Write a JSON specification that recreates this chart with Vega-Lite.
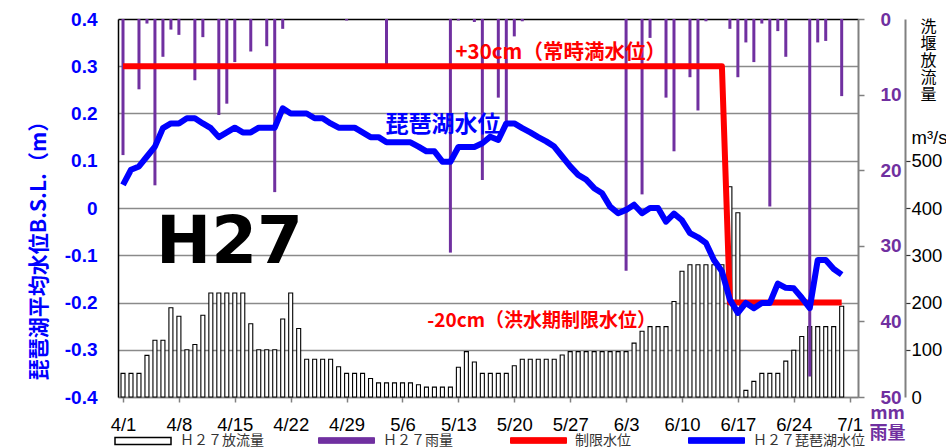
{
  "$schema": "https://vega.github.io/schema/vega-lite/v6.json",
  "width": 740,
  "height": 378,
  "autosize": {"type": "none"},
  "padding": {"left": 118, "top": 19, "right": 88, "bottom": 50},
  "background": "white",
  "config": {"view": {"stroke": null}, "font": "Noto Sans CJK JP"},
  "datasets": {
    "daily": [
      {"date": "2015/04/01", "discharge": 50, "level": 0.049, "rain": 18},
      {"date": "2015/04/02", "discharge": 50, "level": 0.081, "rain": 0},
      {"date": "2015/04/03", "discharge": 50, "level": 0.088, "rain": 9.3},
      {"date": "2015/04/04", "discharge": 88, "level": 0.109, "rain": 0.6},
      {"date": "2015/04/05", "discharge": 120, "level": 0.13, "rain": 22},
      {"date": "2015/04/06", "discharge": 120, "level": 0.169, "rain": 5},
      {"date": "2015/04/07", "discharge": 189, "level": 0.179, "rain": 1.4},
      {"date": "2015/04/08", "discharge": 171, "level": 0.179, "rain": 2.1},
      {"date": "2015/04/09", "discharge": 100, "level": 0.19, "rain": 0},
      {"date": "2015/04/10", "discharge": 111, "level": 0.19, "rain": 8.1},
      {"date": "2015/04/11", "discharge": 173, "level": 0.179, "rain": 2.4},
      {"date": "2015/04/12", "discharge": 220, "level": 0.169, "rain": 0},
      {"date": "2015/04/13", "discharge": 220, "level": 0.15, "rain": 12.7},
      {"date": "2015/04/14", "discharge": 220, "level": 0.16, "rain": 11.2},
      {"date": "2015/04/15", "discharge": 220, "level": 0.17, "rain": 5.7},
      {"date": "2015/04/16", "discharge": 220, "level": 0.16, "rain": 0},
      {"date": "2015/04/17", "discharge": 155, "level": 0.16, "rain": 4.3},
      {"date": "2015/04/18", "discharge": 100, "level": 0.17, "rain": 0},
      {"date": "2015/04/19", "discharge": 100, "level": 0.17, "rain": 3.6},
      {"date": "2015/04/20", "discharge": 100, "level": 0.17, "rain": 22.9},
      {"date": "2015/04/21", "discharge": 165, "level": 0.211, "rain": 1.3},
      {"date": "2015/04/22", "discharge": 220, "level": 0.2, "rain": 0},
      {"date": "2015/04/23", "discharge": 145, "level": 0.2, "rain": 0},
      {"date": "2015/04/24", "discharge": 80, "level": 0.2, "rain": 0},
      {"date": "2015/04/25", "discharge": 80, "level": 0.19, "rain": 0},
      {"date": "2015/04/26", "discharge": 80, "level": 0.19, "rain": 0},
      {"date": "2015/04/27", "discharge": 80, "level": 0.179, "rain": 0},
      {"date": "2015/04/28", "discharge": 64, "level": 0.17, "rain": 0},
      {"date": "2015/04/29", "discharge": 50, "level": 0.17, "rain": 0.2},
      {"date": "2015/04/30", "discharge": 50, "level": 0.17, "rain": 0},
      {"date": "2015/05/01", "discharge": 50, "level": 0.16, "rain": 0},
      {"date": "2015/05/02", "discharge": 39, "level": 0.15, "rain": 0},
      {"date": "2015/05/03", "discharge": 30, "level": 0.15, "rain": 0},
      {"date": "2015/05/04", "discharge": 30, "level": 0.139, "rain": 6.6},
      {"date": "2015/05/05", "discharge": 30, "level": 0.139, "rain": 0},
      {"date": "2015/05/06", "discharge": 30, "level": 0.139, "rain": 0},
      {"date": "2015/05/07", "discharge": 30, "level": 0.139, "rain": 0},
      {"date": "2015/05/08", "discharge": 26, "level": 0.13, "rain": 0},
      {"date": "2015/05/09", "discharge": 21, "level": 0.12, "rain": 0},
      {"date": "2015/05/10", "discharge": 21, "level": 0.12, "rain": 0},
      {"date": "2015/05/11", "discharge": 21, "level": 0.098, "rain": 0},
      {"date": "2015/05/12", "discharge": 21, "level": 0.098, "rain": 30.9},
      {"date": "2015/05/13", "discharge": 63, "level": 0.129, "rain": 0.2},
      {"date": "2015/05/14", "discharge": 96, "level": 0.129, "rain": 0},
      {"date": "2015/05/15", "discharge": 74, "level": 0.129, "rain": 0.4},
      {"date": "2015/05/16", "discharge": 50, "level": 0.137, "rain": 21.3},
      {"date": "2015/05/17", "discharge": 50, "level": 0.151, "rain": 0},
      {"date": "2015/05/18", "discharge": 50, "level": 0.144, "rain": 10.4},
      {"date": "2015/05/19", "discharge": 50, "level": 0.179, "rain": 13.6},
      {"date": "2015/05/20", "discharge": 66, "level": 0.179, "rain": 2.3},
      {"date": "2015/05/21", "discharge": 80, "level": 0.169, "rain": 0.3},
      {"date": "2015/05/22", "discharge": 80, "level": 0.16, "rain": 0},
      {"date": "2015/05/23", "discharge": 80, "level": 0.15, "rain": 0},
      {"date": "2015/05/24", "discharge": 80, "level": 0.141, "rain": 0},
      {"date": "2015/05/25", "discharge": 80, "level": 0.13, "rain": 0},
      {"date": "2015/05/26", "discharge": 89, "level": 0.109, "rain": 0},
      {"date": "2015/05/27", "discharge": 96, "level": 0.088, "rain": 0},
      {"date": "2015/05/28", "discharge": 96, "level": 0.07, "rain": 0},
      {"date": "2015/05/29", "discharge": 96, "level": 0.06, "rain": 0},
      {"date": "2015/05/30", "discharge": 96, "level": 0.042, "rain": 0},
      {"date": "2015/05/31", "discharge": 96, "level": 0.031, "rain": 0},
      {"date": "2015/06/01", "discharge": 96, "level": 0.003, "rain": 0},
      {"date": "2015/06/02", "discharge": 96, "level": -0.011, "rain": 0},
      {"date": "2015/06/03", "discharge": 96, "level": -0.004, "rain": 33.3},
      {"date": "2015/06/04", "discharge": 114, "level": 0.007, "rain": 0},
      {"date": "2015/06/05", "discharge": 139, "level": -0.011, "rain": 23.2},
      {"date": "2015/06/06", "discharge": 149, "level": 0.0, "rain": 2.5},
      {"date": "2015/06/07", "discharge": 149, "level": 0.0, "rain": 0},
      {"date": "2015/06/08", "discharge": 149, "level": -0.029, "rain": 10.4},
      {"date": "2015/06/09", "discharge": 202, "level": -0.012, "rain": 17.5},
      {"date": "2015/06/10", "discharge": 266, "level": -0.026, "rain": 0},
      {"date": "2015/06/11", "discharge": 280, "level": -0.053, "rain": 7.7},
      {"date": "2015/06/12", "discharge": 280, "level": -0.062, "rain": 12.1},
      {"date": "2015/06/13", "discharge": 280, "level": -0.074, "rain": 0.3},
      {"date": "2015/06/14", "discharge": 280, "level": -0.11, "rain": 0},
      {"date": "2015/06/15", "discharge": 280, "level": -0.134, "rain": 0},
      {"date": "2015/06/16", "discharge": 445, "level": -0.194, "rain": 1.3},
      {"date": "2015/06/17", "discharge": 390, "level": -0.222, "rain": 7.7},
      {"date": "2015/06/18", "discharge": 14, "level": -0.201, "rain": 3.1},
      {"date": "2015/06/19", "discharge": 33, "level": -0.212, "rain": 5.7},
      {"date": "2015/06/20", "discharge": 50, "level": -0.201, "rain": 0.6},
      {"date": "2015/06/21", "discharge": 50, "level": -0.201, "rain": 24.8},
      {"date": "2015/06/22", "discharge": 50, "level": -0.16, "rain": 1.6},
      {"date": "2015/06/23", "discharge": 76, "level": -0.169, "rain": 5.0},
      {"date": "2015/06/24", "discharge": 99, "level": -0.17, "rain": 0},
      {"date": "2015/06/25", "discharge": 128, "level": -0.19, "rain": 0},
      {"date": "2015/06/26", "discharge": 149, "level": -0.212, "rain": 47.3},
      {"date": "2015/06/27", "discharge": 149, "level": -0.11, "rain": 3.1},
      {"date": "2015/06/28", "discharge": 149, "level": -0.11, "rain": 2.9},
      {"date": "2015/06/29", "discharge": 149, "level": -0.129, "rain": 0},
      {"date": "2015/06/30", "discharge": 192, "level": -0.141, "rain": 10.2}
    ],
    "limit": [
      {"date": "2015/04/01", "level": 0.3},
      {"date": "2015/06/15", "level": 0.3},
      {"date": "2015/06/16", "level": -0.2},
      {"date": "2015/06/30", "level": -0.2}
    ]
  },
  "encoding": {
    "x": {
      "field": "date",
      "type": "temporal",
      "scale": {
        "domain": [{"year": 2015, "month": 4, "date": 1}, {"year": 2015, "month": 7, "date": 1, "hours": 10}],
        "nice": false
      },
      "axis": {
        "values": [
          {"year": 2015, "month": 4, "date": 1}, {"year": 2015, "month": 4, "date": 8},
          {"year": 2015, "month": 4, "date": 15}, {"year": 2015, "month": 4, "date": 22},
          {"year": 2015, "month": 4, "date": 29}, {"year": 2015, "month": 5, "date": 6},
          {"year": 2015, "month": 5, "date": 13}, {"year": 2015, "month": 5, "date": 20},
          {"year": 2015, "month": 5, "date": 27}, {"year": 2015, "month": 6, "date": 3},
          {"year": 2015, "month": 6, "date": 10}, {"year": 2015, "month": 6, "date": 17},
          {"year": 2015, "month": 6, "date": 24}, {"year": 2015, "month": 7, "date": 1}
        ],
        "labelExpr": "timeFormat(datum.value, '%-m/%-d')",
        "labelFlush": false,
        "labelOverlap": false,
        "labelFont": "Liberation Sans",
        "labelFontSize": 18.5,
        "labelColor": "black",
        "labelPadding": 13,
        "tickSize": 5,
        "tickColor": "#808080",
        "tickWidth": 1.5,
        "domainColor": "#808080",
        "domainWidth": 1.5,
        "grid": false,
        "title": null
      }
    }
  },
  "layer": [
    {
      "data": {"name": "daily"},
      "mark": {"type": "bar", "size": 4, "stroke": "black", "strokeWidth": 1.1},
      "encoding": {
        "y": {
          "field": "discharge",
          "type": "quantitative",
          "scale": {"domain": [0, 800], "nice": false, "zero": true},
          "axis": {
            "orient": "right",
            "offset": 47,
            "values": [0, 100, 200, 300, 400, 500, 550],
            "grid": false,
            "domainColor": "#808080",
            "domainWidth": 2,
            "tickColor": "#333333",
            "tickSize": 5,
            "tickWidth": 1.2,
            "tickOpacity": {"condition": {"test": "datum.value === 0 || datum.value === 550", "value": 0}, "value": 1},
            "labelPadding": 1,
            "labelFont": "Liberation Sans",
            "labelFontSize": 18.5,
            "labelColor": "black",
            "labelExpr": "datum.value === 550 ? 'm³/s' : datum.value === 0 ? '\u00a0\u00a0\u00a0\u00a00' : datum.label",
            "title": ["洗", "堰", "放", "流", "量"],
            "titleAngle": 0,
            "titleAlign": "center",
            "titleBaseline": "top",
            "titleX": 23,
            "titleY": -1,
            "titleFont": "Noto Sans CJK JP",
            "titleFontSize": 16,
            "titleFontWeight": "normal",
            "titleColor": "black",
            "titleLineHeight": 17
          }
        },
        "fill": {
          "datum": "Ｈ２７放流量",
          "type": "nominal",
          "scale": {"domain": ["Ｈ２７放流量"], "range": ["#ffffff"]},
          "legend": {
            "title": null,
            "orient": "none",
            "legendX": -4,
            "legendY": 393,
            "symbolType": "M-1,-0.125H1V0.125H-1Z",
            "symbolSize": 3136,
            "symbolStrokeColor": "#000000",
            "symbolStrokeWidth": 1.5,
            "labelFont": "Noto Sans CJK JP",
            "labelFontSize": 14,
            "labelColor": "#333333",
            "labelOffset": 8,
            "padding": 0
          }
        }
      }
    },
    {
      "data": {"name": "daily"},
      "transform": [{"filter": "datum.rain > 0"}],
      "mark": {"type": "bar", "size": 3},
      "encoding": {
        "y": {
          "field": "rain",
          "type": "quantitative",
          "scale": {"domain": [0, 50], "reverse": true, "nice": false},
          "axis": {
            "orient": "right",
            "values": [0, 10, 20, 30, 40, 50],
            "grid": false,
            "domainColor": "#808080",
            "domainWidth": 2,
            "tickColor": "#808080",
            "tickSize": 6,
            "tickWidth": 1.5,
            "labelPadding": 16,
            "labelFont": "Liberation Sans",
            "labelFontSize": 19,
            "labelFontWeight": "bold",
            "labelColor": "#7030A0",
            "title": ["mm", "雨量"],
            "titleAngle": 0,
            "titleAlign": "center",
            "titleBaseline": "top",
            "titleX": 29,
            "titleY": 385,
            "titleFont": "Noto Sans CJK JP",
            "titleFontSize": 18,
            "titleFontWeight": "bold",
            "titleColor": "#7030A0",
            "titleLineHeight": 20
          }
        },
        "color": {
          "datum": "Ｈ２７雨量",
          "type": "nominal",
          "scale": {
            "domain": ["Ｈ２７雨量", "制限水位", "Ｈ２７琵琶湖水位"],
            "range": ["#7030A0", "#FF0000", "#0000FF"]
          },
          "legend": {
            "title": null,
            "orient": "none",
            "legendX": 200,
            "legendY": 393,
            "direction": "horizontal",
            "columns": 3,
            "gridAlign": "none",
            "columnPadding": 55,
            "symbolType": "M-1,-0.1H1V0.1H-1Z",
            "symbolSize": 3136,
            "symbolStrokeWidth": 1,
            "labelFont": "Noto Sans CJK JP",
            "labelFontSize": 14,
            "labelColor": "#333333",
            "labelOffset": 8,
            "padding": 0
          }
        }
      }
    },
    {
      "layer": [
        {
          "data": {"name": "limit"},
          "mark": {"type": "line", "strokeWidth": 6, "strokeCap": "butt", "strokeJoin": "round"},
          "encoding": {
            "y": {
              "field": "level",
              "type": "quantitative",
              "scale": {"domain": [-0.4, 0.4], "nice": false, "zero": false},
              "axis": {
                "orient": "left",
                "values": [-0.4, -0.3, -0.2, -0.1, 0, 0.1, 0.2, 0.3, 0.4],
                "grid": true,
                "gridColor": {"condition": {"test": "datum.value > 0.39", "value": "black"}, "value": "#8a8a8a"},
                "gridWidth": 1.5,
                "domainColor": "black",
                "domainWidth": 1.5,
                "ticks": false,
                "tickSize": 0,
                "labelPadding": 21,
                "labelFont": "Liberation Sans",
                "labelFontSize": 19,
                "labelFontWeight": "bold",
                "labelColor": "#0000FF",
                "labelExpr": "abs(datum.value) < 0.001 ? '0' : (datum.value < 0 ? '-' : '') + format(abs(datum.value), '.1f')",
                "title": "琵琶湖平均水位B.S.L.（m）",
                "titleFont": "Noto Sans CJK JP",
                "titleFontSize": 21,
                "titleFontWeight": "bold",
                "titleColor": "#0000FF",
                "titleAngle": 270,
                "titleAlign": "center",
                "titleBaseline": "middle",
                "titleX": -79,
                "titleY": 226
              }
            },
            "color": {
              "datum": "制限水位",
              "type": "nominal",
              "scale": {
                "domain": ["Ｈ２７雨量", "制限水位", "Ｈ２７琵琶湖水位"],
                "range": ["#7030A0", "#FF0000", "#0000FF"]
              }
            }
          }
        },
        {
          "data": {"name": "daily"},
          "mark": {"type": "line", "strokeWidth": 6, "strokeCap": "butt", "strokeJoin": "round"},
          "encoding": {
            "y": {
              "field": "level",
              "type": "quantitative",
              "scale": {"domain": [-0.4, 0.4], "nice": false, "zero": false}
            },
            "color": {
              "datum": "Ｈ２７琵琶湖水位",
              "type": "nominal",
              "scale": {
                "domain": ["Ｈ２７雨量", "制限水位", "Ｈ２７琵琶湖水位"],
                "range": ["#7030A0", "#FF0000", "#0000FF"]
              }
            }
          }
        },
        {
          "data": {"values": [{"date": "2015/05/25 19:30", "level": 0.3147, "label": "+30cm（常時満水位）"}]},
          "mark": {"type": "text", "font": "Noto Sans CJK JP", "fontSize": 20.5, "fontWeight": "bold", "color": "#FF0000", "align": "center", "baseline": "alphabetic"},
          "encoding": {
            "y": {"field": "level", "type": "quantitative", "scale": {"domain": [-0.4, 0.4], "nice": false, "zero": false}},
            "text": {"field": "label"}
          }
        },
        {
          "data": {"values": [{"date": "2015/05/11 02:00", "level": 0.161, "label": "琵琶湖水位"}]},
          "mark": {"type": "text", "font": "Noto Sans CJK JP", "fontSize": 23, "fontWeight": "bold", "color": "#0000FF", "align": "center", "baseline": "alphabetic"},
          "encoding": {
            "y": {"field": "level", "type": "quantitative", "scale": {"domain": [-0.4, 0.4], "nice": false, "zero": false}},
            "text": {"field": "label"}
          }
        },
        {
          "data": {"values": [{"date": "2015/05/23 10:30", "level": -0.2512, "label": "-20cm（洪水期制限水位）"}]},
          "mark": {"type": "text", "font": "Noto Sans CJK JP", "fontSize": 19, "fontWeight": "bold", "color": "#FF0000", "align": "center", "baseline": "alphabetic"},
          "encoding": {
            "y": {"field": "level", "type": "quantitative", "scale": {"domain": [-0.4, 0.4], "nice": false, "zero": false}},
            "text": {"field": "label"}
          }
        },
        {
          "data": {"values": [{"date": "2015/04/14 08:00", "level": -0.117, "label": "H27"}]},
          "mark": {"type": "text", "font": "DejaVu Sans", "fontSize": 66, "fontWeight": "bold", "color": "black", "align": "center", "baseline": "alphabetic"},
          "encoding": {
            "y": {"field": "level", "type": "quantitative", "scale": {"domain": [-0.4, 0.4], "nice": false, "zero": false}},
            "text": {"field": "label"}
          }
        }
      ]
    }
  ],
  "resolve": {"scale": {"y": "independent"}}
}
